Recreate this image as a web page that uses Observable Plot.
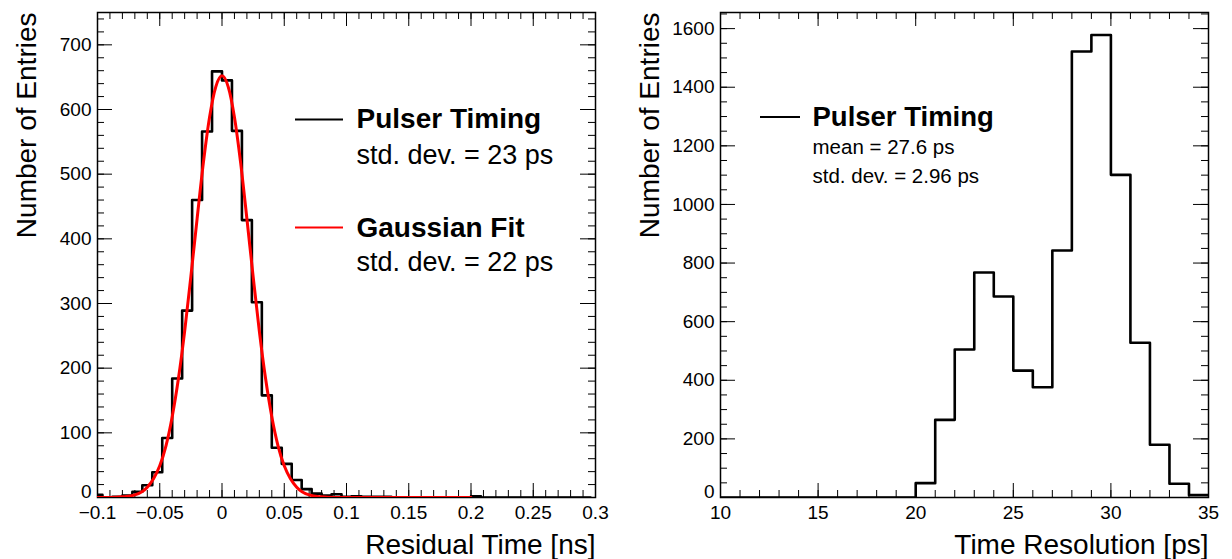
<!DOCTYPE html>
<html><head><meta charset="utf-8">
<script src="https://cdn.jsdelivr.net/npm/d3@7"></script>
<script src="https://cdn.jsdelivr.net/npm/@observablehq/plot@0.6"></script>
<style>
body{margin:0;background:#fff;}
#wrap{display:flex;width:1232px;height:559px;overflow:hidden;}
svg{display:block;}
</style></head><body><div id="wrap"></div>
<script>
// ---------- Left panel: residual time (ns), bin width 0.008 ----------
const residualCenters = [-0.1,-0.092,-0.084,-0.076,-0.068,-0.06,-0.052,-0.044,-0.036,-0.028,
  -0.02,-0.012,-0.004,0.004,0.012,0.02,0.028,0.036,0.044,0.052,
  0.06,0.068,0.076,0.084,0.092,0.1,0.108,0.116,0.124,0.132,
  0.14,0.148,0.156,0.164,0.172,0.18,0.188,0.196,0.204,0.212,
  0.22,0.228,0.236,0.244,0.252,0.26,0.268,0.276,0.284,0.292];
const residualCounts = [4,0,1,3,9,19,39,92,184,289,
  460,566,659,645,567,429,302,158,77,52,
  27,13,6,3,5,1,2,1,1,1,
  0,0,0,0,0,0,0,0,2,0,
  0,0,0,0,0,0,0,0,0,0];
const residualHalfWidth = 0.004;

// Gaussian fit curve
const fitX = [-0.1,-0.09,-0.08,-0.07,-0.06,-0.055,-0.05,-0.045,-0.04,-0.035,-0.03,-0.025,-0.02,-0.015,-0.01,-0.005,
  0,0.005,0.01,0.015,0.02,0.025,0.03,0.035,0.04,0.045,0.05,0.055,0.06,0.07,0.08,0.09,0.1,0.15,0.2];
const fitY = [0,0,1,4,16,29,49,80,125,184,257,342,431,517,588,635,
  652,635,588,517,431,342,257,184,125,80,49,29,16,4,1,0,0,0,0];

const leftXTicks = [-0.1,-0.05,0,0.05,0.1,0.15,0.2,0.25,0.3];
const leftYTicks = [0,100,200,300,400,500,600,700];

// ---------- Right panel: time resolution (ps), bin width 1 ----------
const resCenters = [10.5,11.5,12.5,13.5,14.5,15.5,16.5,17.5,18.5,19.5,20.5,21.5,22.5,
  23.5,24.5,25.5,26.5,27.5,28.5,29.5,30.5,31.5,32.5,33.5,34.5];
const resCounts = [0,0,0,0,0,0,0,0,0,0,49,265,505,768,686,433,376,843,1522,1578,1101,528,180,47,8];
const resHalfWidth = 0.5;

const rightXTicks = [10,15,20,25,30,35];
const rightYTicks = [0,200,400,600,800,1000,1200,1400,1600];

// ---------- helpers ----------
const H = 559, MT = 12, MB = 62;
const FONT = "'Liberation Sans', Arial, Helvetica, sans-serif";

function stepPoints(centers, counts, hw) {
  const pts = centers.map((c, i) => ({x: c - hw, y: counts[i]}));
  pts.push({x: centers[centers.length - 1] + hw, y: counts[counts.length - 1]});
  return pts;
}
function range(a, b, s) { const out = []; const n = Math.round((b - a) / s); for (let i = 0; i <= n; i++) out.push(a + i * s); return out; }

function panel(o) {
  const ph = H - MT - MB, pw = o.width - o.ml - o.mr;
  const xMin = range(o.xDomain[0], o.xDomain[1], o.xMinorStep);
  const yMin = range(0, o.yDomain[1], o.yMinorStep).filter(v => v <= o.yDomain[1]);
  const tk = {stroke: "black", strokeWidth: 1};
  const yFmt = d3.format("d");
  const marks = [
    Plot.tickX(xMin, {x: d => d, insetTop: ph - 7, ...tk}),
    Plot.tickX(o.xTicks, {x: d => d, insetTop: ph - 14, ...tk}),
    Plot.tickX(xMin, {x: d => d, insetBottom: ph - 7, ...tk}),
    Plot.tickX(o.xTicks, {x: d => d, insetBottom: ph - 14, ...tk}),
    Plot.tickY(yMin, {y: d => d, insetRight: pw - 7, ...tk}),
    Plot.tickY(o.yTicks, {y: d => d, insetRight: pw - 15, ...tk}),
    Plot.tickY(yMin, {y: d => d, insetLeft: pw - 7, ...tk}),
    Plot.tickY(o.yTicks, {y: d => d, insetLeft: pw - 15, ...tk}),
    Plot.frame({stroke: "black", strokeWidth: 1.5}),
    Plot.axisX({ticks: o.xTicks, tickSize: 0, tickPadding: 8, fontSize: 19, tickFormat: o.xFormat, label: null}),
    Plot.axisY({ticks: o.yTicks.filter(v => v !== 0), tickSize: 0, tickPadding: 6, fontSize: 19, tickFormat: yFmt, label: null}),
    Plot.axisY({ticks: [0], tickSize: 0, tickPadding: 6, fontSize: 19, tickFormat: yFmt, label: null, dy: -6}),
    Plot.text(["Number of Entries"], {frameAnchor: "top-left", text: d => d, rotate: -90, textAnchor: "end", lineAnchor: "bottom", dx: -62, fontSize: 28}),
    Plot.text([o.xLabel], {frameAnchor: "bottom-right", text: d => d, textAnchor: "end", lineAnchor: "bottom", dy: 56, fontSize: 28}),
    ...o.marks
  ];
  const svg = Plot.plot({
    width: o.width, height: H,
    marginLeft: o.ml, marginRight: o.mr, marginTop: MT, marginBottom: MB,
    style: {fontFamily: FONT, background: "white", color: "black", overflow: "visible"},
    x: {domain: o.xDomain},
    y: {domain: o.yDomain},
    marks
  });
  const g = d3.select(svg);
  for (const l of o.legendLines) {
    g.append("line").attr("x1", l.x1).attr("x2", l.x2).attr("y1", l.y).attr("y2", l.y)
      .attr("stroke", l.color).attr("stroke-width", 2);
  }
  return svg;
}

const leftSvg = panel({
  width: 616, ml: 97, mr: 21,
  xDomain: [-0.1, 0.3], yDomain: [0, 750],
  xTicks: leftXTicks, yTicks: leftYTicks, xMinorStep: 0.01, yMinorStep: 20,
  xFormat: d3.format("~g"),
  xLabel: "Residual Time [ns]",
  legendLines: [{x1: 295, x2: 343, y: 119.5, color: "black"}, {x1: 295, x2: 343, y: 227.5, color: "#ff0000"}],
  marks: [
    Plot.line(stepPoints(residualCenters, residualCounts, residualHalfWidth), {x: "x", y: "y", curve: "step-after", stroke: "black", strokeWidth: 2.6, clip: true}),
    Plot.line(fitX.map((x, i) => ({x, y: fitY[i]})), {x: "x", y: "y", curve: "monotone-x", stroke: "#ff0000", strokeWidth: 3, clip: true}),
    Plot.text(["Pulser Timing"], {frameAnchor: "top-left", text: d => d, textAnchor: "start", lineAnchor: "bottom", dx: 259, dy: 115, fontSize: 28, fontWeight: "bold"}),
    Plot.text(["std. dev. = 23 ps"], {frameAnchor: "top-left", text: d => d, textAnchor: "start", lineAnchor: "bottom", dx: 259, dy: 151, fontSize: 27}),
    Plot.text(["Gaussian Fit"], {frameAnchor: "top-left", text: d => d, textAnchor: "start", lineAnchor: "bottom", dx: 259, dy: 224, fontSize: 28, fontWeight: "bold"}),
    Plot.text(["std. dev. = 22 ps"], {frameAnchor: "top-left", text: d => d, textAnchor: "start", lineAnchor: "bottom", dx: 259, dy: 258, fontSize: 27})
  ]
});

const rightSvg = panel({
  width: 616, ml: 104, mr: 24,
  xDomain: [10, 35], yDomain: [0, 1655],
  xTicks: rightXTicks, yTicks: rightYTicks, xMinorStep: 1, yMinorStep: 50,
  xFormat: d3.format("d"),
  xLabel: "Time Resolution [ps]",
  legendLines: [{x1: 760, x2: 800, y: 117, color: "black"}].map(l => ({...l, x1: l.x1 - 616, x2: l.x2 - 616})),
  marks: [
    Plot.line(stepPoints(resCenters, resCounts, resHalfWidth), {x: "x", y: "y", curve: "step-after", stroke: "black", strokeWidth: 2.6, clip: true}),
    Plot.text(["Pulser Timing"], {frameAnchor: "top-left", text: d => d, textAnchor: "start", lineAnchor: "bottom", dx: 92, dy: 113, fontSize: 27.5, fontWeight: "bold"}),
    Plot.text(["mean = 27.6 ps"], {frameAnchor: "top-left", text: d => d, textAnchor: "start", lineAnchor: "bottom", dx: 92, dy: 141, fontSize: 20.5}),
    Plot.text(["std. dev. = 2.96 ps"], {frameAnchor: "top-left", text: d => d, textAnchor: "start", lineAnchor: "bottom", dx: 92, dy: 170, fontSize: 20.5})
  ]
});

document.getElementById("wrap").append(leftSvg, rightSvg);
</script>
</body></html>
